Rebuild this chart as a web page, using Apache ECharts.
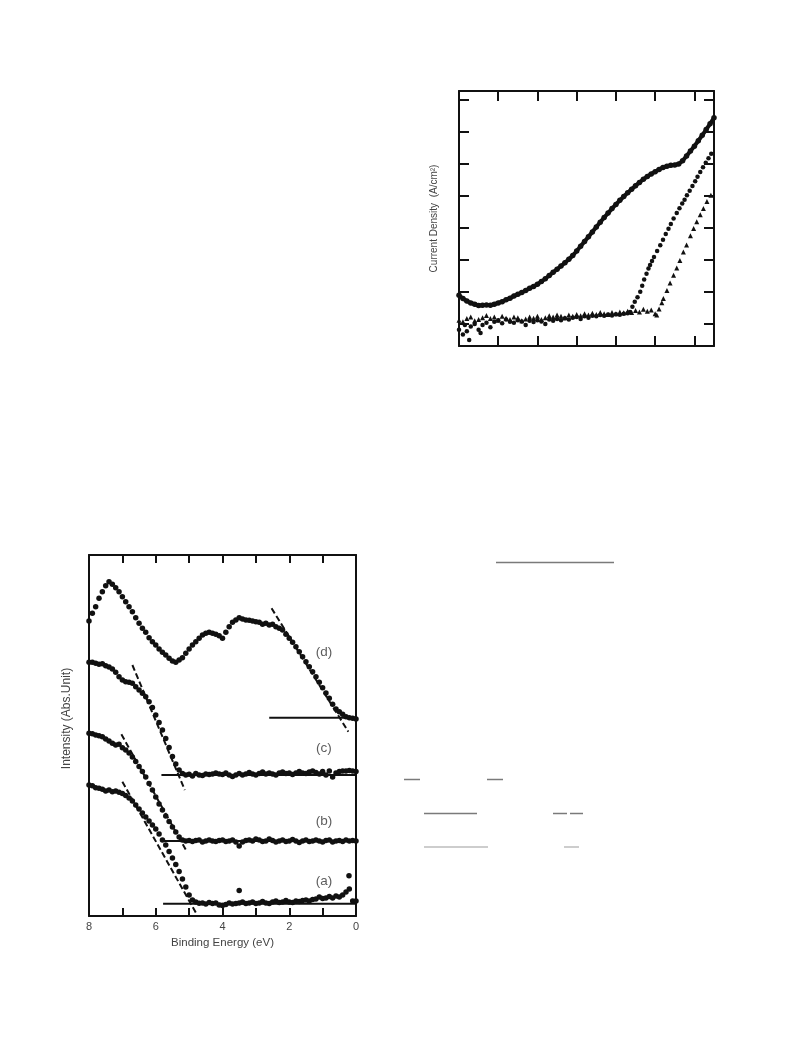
<!DOCTYPE html>
<html>
<head>
<meta charset="utf-8">
<script src="https://cdn.jsdelivr.net/npm/echarts@6/dist/echarts.min.js"></script>
<style>
html,body{margin:0;padding:0;background:#fff;}
#c{width:793px;height:1057px;}
</style>
</head>
<body>
<div id="c"></div>
<script>
// ---------- Top chart: Current Density (arbitrary units) ----------
const topUpper = [
[0.0,0.88],[0.1,0.78],[0.2,0.70],[0.3,0.64],[0.4,0.60],[0.5,0.56],[0.6,0.57],[0.7,0.58],[0.8,0.57],[0.9,0.60],
[1.0,0.64],[1.1,0.68],[1.2,0.74],[1.3,0.79],[1.4,0.86],[1.5,0.91],[1.6,0.97],[1.7,1.03],[1.8,1.10],[1.9,1.16],
[2.0,1.23],[2.1,1.31],[2.2,1.40],[2.3,1.50],[2.4,1.60],[2.5,1.70],[2.6,1.80],[2.7,1.90],[2.8,2.01],[2.9,2.13],
[3.0,2.27],[3.1,2.42],[3.2,2.57],[3.3,2.72],[3.4,2.87],[3.5,3.02],[3.6,3.17],[3.7,3.32],[3.8,3.46],[3.9,3.60],
[4.0,3.73],[4.1,3.86],[4.2,3.98],[4.3,4.10],[4.4,4.21],[4.5,4.32],[4.6,4.42],[4.7,4.52],[4.8,4.61],[4.9,4.69],
[5.0,4.76],[5.1,4.83],[5.2,4.89],[5.3,4.93],[5.4,4.96],[5.5,4.97],[5.6,5.00],[5.7,5.10],[5.8,5.25],[5.9,5.41],
[6.0,5.56],[6.1,5.73],[6.2,5.90],[6.3,6.08],[6.4,6.26],[6.5,6.45]
];
const topCircles = [
[0.0,-0.20],[0.1,-0.35],[0.15,-0.05],[0.2,-0.25],[0.26,-0.52],[0.3,-0.10],[0.4,-0.02],[0.5,-0.20],[0.55,-0.30],[0.6,-0.05],
[0.7,0.02],[0.8,-0.12],[0.9,0.05],[1.0,0.10],[1.1,0.00],[1.2,0.12],[1.3,0.05],[1.4,0.02],[1.5,0.10],[1.6,0.06],
[1.7,-0.05],[1.8,0.08],[1.9,0.04],[2.0,0.10],[2.1,0.06],[2.2,-0.02],[2.3,0.12],[2.4,0.08],[2.5,0.14],[2.6,0.10],
[2.7,0.16],[2.8,0.12],[2.9,0.18],[3.0,0.20],[3.1,0.14],[3.2,0.22],[3.3,0.18],[3.4,0.24],[3.5,0.22],[3.6,0.26],
[3.7,0.24],[3.8,0.28],[3.9,0.25],[4.0,0.29],[4.1,0.27],[4.2,0.30],[4.3,0.32],
[4.36,0.36],[4.42,0.52],[4.48,0.68],[4.55,0.82],[4.62,0.99],[4.67,1.18],[4.72,1.38],[4.78,1.56],[4.83,1.72],[4.87,1.83],
[4.92,1.96],[4.97,2.08],[5.05,2.27],[5.13,2.45],[5.2,2.62],[5.27,2.80],[5.34,2.97],[5.40,3.12],[5.47,3.29],[5.55,3.46],
[5.62,3.61],[5.69,3.76],[5.75,3.88],[5.81,4.02],[5.88,4.16],[5.95,4.31],[6.02,4.46],[6.08,4.60],[6.15,4.75],[6.22,4.90],
[6.29,5.04],[6.36,5.18],[6.43,5.32],[6.52,5.49]
];
const topTriangles = [
[0.0,0.10],[0.1,0.05],[0.2,0.15],[0.3,0.20],[0.4,0.08],[0.5,0.12],[0.6,0.18],[0.7,0.25],[0.8,0.15],[0.9,0.20],
[1.0,0.10],[1.1,0.22],[1.2,0.16],[1.3,0.12],[1.4,0.20],[1.5,0.18],[1.6,0.08],[1.7,0.14],[1.8,0.20],[1.9,0.16],
[2.0,0.22],[2.1,0.12],[2.2,0.18],[2.3,0.24],[2.4,0.20],[2.5,0.26],[2.6,0.22],[2.7,0.18],[2.8,0.26],[2.9,0.22],
[3.0,0.28],[3.1,0.24],[3.2,0.30],[3.3,0.26],[3.4,0.32],[3.5,0.28],[3.6,0.34],[3.7,0.30],[3.8,0.28],[3.9,0.34],
[4.0,0.30],[4.1,0.36],[4.2,0.33],[4.3,0.38],[4.4,0.34],[4.5,0.40],[4.6,0.36],[4.7,0.44],[4.8,0.38],[4.9,0.42],
[5.0,0.30],[5.04,0.26],[5.1,0.45],[5.17,0.65],[5.21,0.78],[5.3,1.03],[5.38,1.27],[5.47,1.51],[5.55,1.74],[5.63,1.97],
[5.72,2.24],[5.8,2.46],[5.9,2.75],[5.98,2.98],[6.06,3.19],[6.15,3.41],[6.23,3.60],[6.32,3.82],[6.42,4.02],[6.52,4.23]
];
const topYTicks = [0,1,2,3,4,5,6,7];

// ---------- Bottom chart: XPS valence band ----------
const energies = [
8.0,7.9,7.8,7.7,7.6,7.5,7.4,7.3,7.2,7.1,
7.0,6.9,6.8,6.7,6.6,6.5,6.4,6.3,6.2,6.1,
6.0,5.9,5.8,5.7,5.6,5.5,5.4,5.3,5.2,5.1,
5.0,4.9,4.8,4.7,4.6,4.5,4.4,4.3,4.2,4.1,
4.0,3.9,3.8,3.7,3.6,3.5,3.4,3.3,3.2,3.1,
3.0,2.9,2.8,2.7,2.6,2.5,2.4,2.3,2.2,2.1,
2.0,1.9,1.8,1.7,1.6,1.5,1.4,1.3,1.2,1.1,
1.0,0.9,0.8,0.7,0.6,0.5,0.4,0.3,0.2,0.1,
0.0
];
const curveD = [
295,302.7,309.3,317.7,324.3,330.3,334.3,331.7,328.3,324.3,
319.3,314.3,309.3,304.3,298.3,292.7,287.7,283.7,278.3,274.3,
271,267,263.7,261,257.7,255,253.7,256,258.3,262.7,
267,271,274.3,277.7,281,282.7,283.7,282.7,281.7,280.3,
277.7,283.7,289.3,293.7,296,298.3,297,296,295.7,295,
294.3,293.7,291.7,292.7,291,291.7,289.3,287.7,286,281.7,
277.7,273.7,269.3,264.3,259.3,254.3,249.3,244.3,239.3,233.7,
228.3,223,217.7,211.7,207,204.3,201.7,199.3,198.3,197.7,
197
];
const curveC = [
253.7,253.7,252.7,251.7,252.3,250.3,249,247,243.7,239.3,
236,234.3,233.7,232.7,229.3,226,222.7,219.3,214.3,208.5,
201,193.5,186,177.5,168.5,159.5,152,146,142.5,141,
141.7,140,142.5,141,140.5,142,141.5,142,143,142,
141.5,143,141,139.5,141,142.5,141,142,143.5,142,
141,142.5,144,142,143,142,141,143,144,142.5,
143,141.5,143,144.5,143,142.5,144,145,143.5,142,
144.5,141,145,139,143,144.5,145,145,145.5,145,
144.5
];
const curveB = [
182.7,182.3,181,180.3,179.3,177,175,172.7,171,171.7,
168.3,166,163,159,154.5,149.5,144.5,139,132.5,126,
119,112,106,100,94.5,89,84,79,76,75,
75.5,74.5,75.5,76,74,75,76,75,74.5,75.5,
76,74.5,75,76,74,70,74,75.5,76,75,
77,76,74.5,75,77,75.5,74,75,76,74.5,
75,76.5,75,73.5,75,76,74.5,75,76,75,
74,75.5,76,74,75,75.5,74.5,76,75,75.5,
75
];
const curveA = [
131,130.3,128.3,127.7,126.7,125,126,124.3,125,123.7,
122.5,120.5,118,115,111,107,103,99,95,91,
87,82,76,71,64.5,58,51.5,44.5,37,29,
21,16,14,12.7,13,12,13.5,12.5,13,11,
10.5,11.5,13,12,12.5,13,14,12.5,13,14,
12.5,13,14.5,13,12.5,14,15,13.5,14,15.5,
14,13.5,15,14.5,15.5,16,15,16.5,17,19,
17.5,18,19.5,18,20,19,21,24,27,15,
15
];
const outliersA = [[3.5,25.5],[0.21,40.3]];
// dashed leading-edge fits and solid baselines (energy, intensity)
const fitD = [[2.53,307.7],[0.23,184.3]];
const fitC = [[6.70,251],[5.13,126]];
const fitB = [[7.03,181.7],[5.08,65]];
const fitA = [[7.00,134.3],[4.76,1]];
const baseD = [[2.6,198.3],[0,198.3]];
const baseC = [[5.83,141],[0,141]];
const baseB = [[5.78,75],[0,75]];
const baseA = [[5.78,12.3],[0,12.3]];
const curveLabels = [['(d)',0.96,263.7],['(c)',0.96,167.7],['(b)',0.96,94.3],['(a)',0.96,34.3]];
const xLabelValues = [0,2,4,6,8];

// ---------- build ----------
const FONT = 'Liberation Sans, Arial, Helvetica, sans-serif';
const pair = (ys) => energies.map((e,i)=>[e, ys[i]]);

const chart = echarts.init(document.getElementById('c'), null, {renderer:'canvas'});

const axLine = {show:true, onZero:false, lineStyle:{color:'#111', width:2}};
const scatterS = (xi, yi, data, sym, size) => ({
  type:'scatter', xAxisIndex:xi, yAxisIndex:yi, data:data, symbol:sym, symbolSize:size,
  itemStyle:{color:'#111', opacity:1}, silent:true, z:3
});
const lineS = (data, dashed) => ({
  type:'line', xAxisIndex:2, yAxisIndex:2, data:data, showSymbol:false, symbol:'none',
  lineStyle:{color:'#111', width:2, type: dashed ? [6,3] : 'solid'}, silent:true, z:2
});

const option = {
  animation:false,
  backgroundColor:'#fff',
  grid:[
    {left:459, top:91, width:255, height:255, show:false},
    {left:89, top:555, width:267, height:361, show:false}
  ],
  xAxis:[
    {gridIndex:0, type:'value', position:'bottom', min:0, max:6.5, interval:1,
     axisLine:axLine, axisTick:{show:true, inside:true, length:10, lineStyle:{color:'#111', width:2}},
     axisLabel:{show:false}, splitLine:{show:false}},
    {gridIndex:0, type:'value', position:'top', min:0, max:6.5, interval:1,
     axisLine:axLine, axisTick:{show:true, inside:true, length:10, lineStyle:{color:'#111', width:2}},
     axisLabel:{show:false}, splitLine:{show:false}},
    {gridIndex:1, type:'value', position:'bottom', inverse:true, min:0, max:8, interval:1,
     axisLine:axLine, axisTick:{show:true, inside:true, length:8, lineStyle:{color:'#111', width:2}},
     axisLabel:{show:true, customValues:xLabelValues, color:'#444', fontSize:11, fontFamily:FONT, margin:5},
     splitLine:{show:false},
     name:'Binding Energy (eV)', nameLocation:'middle', nameGap:21,
     nameTextStyle:{color:'#444', fontSize:11.5, fontFamily:FONT}},
    {gridIndex:1, type:'value', position:'top', inverse:true, min:0, max:8, interval:1,
     axisLine:axLine, axisTick:{show:true, inside:true, length:8, lineStyle:{color:'#111', width:2}},
     axisLabel:{show:false}, splitLine:{show:false}}
  ],
  yAxis:[
    {gridIndex:0, type:'value', position:'left', min:-0.71, max:7.29,
     axisLine:axLine, axisTick:{show:true, inside:true, length:10, customValues:topYTicks, lineStyle:{color:'#111', width:2}},
     axisLabel:{show:false}, splitLine:{show:false},
     name:'Current Density  (A/cm²)', nameLocation:'middle', nameGap:20,
     nameTextStyle:{color:'#444', fontSize:10, fontFamily:FONT}},
    {gridIndex:0, type:'value', position:'right', min:-0.71, max:7.29,
     axisLine:axLine, axisTick:{show:true, inside:true, length:10, customValues:topYTicks, lineStyle:{color:'#111', width:2}},
     axisLabel:{show:false}, splitLine:{show:false}},
    {gridIndex:1, type:'value', position:'left', min:0, max:361,
     axisLine:axLine, axisTick:{show:false}, axisLabel:{show:false}, splitLine:{show:false},
     name:'Intensity (Abs.Unit)', nameLocation:'middle', nameGap:16,
     nameTextStyle:{color:'#444', fontSize:12, fontFamily:FONT, padding:[0,0,0,34]}},
    {gridIndex:1, type:'value', position:'right', min:0, max:361,
     axisLine:axLine, axisTick:{show:false}, axisLabel:{show:false}, splitLine:{show:false}}
  ],
  series:[
    {type:'line', xAxisIndex:0, yAxisIndex:0, data:topUpper, symbol:'circle', symbolSize:5.5, showSymbol:true,
     itemStyle:{color:'#111', opacity:1}, lineStyle:{color:'#111', width:4}, silent:true, z:3},
    scatterS(0,0,topCircles,'circle',4.5),
    scatterS(0,0,topTriangles,'triangle',5),

    lineS(fitD,true), lineS(fitC,true), lineS(fitB,true), lineS(fitA,true),
    lineS(baseD,false), lineS(baseC,false), lineS(baseB,false), lineS(baseA,false),
    scatterS(2,2,pair(curveD),'circle',5.5),
    scatterS(2,2,pair(curveC),'circle',5.5),
    scatterS(2,2,pair(curveB),'circle',5.5),
    scatterS(2,2,pair(curveA),'circle',5.5),
    scatterS(2,2,outliersA,'circle',5.5),
    {type:'scatter', xAxisIndex:2, yAxisIndex:2, symbolSize:0, silent:true,
     data:curveLabels.map(l=>({value:[l[1], l[2]], name:l[0]})),
     label:{show:true, position:'inside', formatter:p=>p.name, color:'#333', fontSize:13.5, fontFamily:FONT}}
  ],
  graphic:[
    {type:'line', shape:{x1:496,y1:562.5,x2:614,y2:562.5}, style:{stroke:'#7a7a7a', lineWidth:1.5}},
    {type:'line', shape:{x1:404,y1:779.5,x2:420,y2:779.5}, style:{stroke:'#7a7a7a', lineWidth:1.5}},
    {type:'line', shape:{x1:487,y1:779.5,x2:503,y2:779.5}, style:{stroke:'#7a7a7a', lineWidth:1.5}},
    {type:'line', shape:{x1:424,y1:813.5,x2:477,y2:813.5}, style:{stroke:'#7a7a7a', lineWidth:1.5}},
    {type:'line', shape:{x1:553,y1:813.5,x2:567,y2:813.5}, style:{stroke:'#7a7a7a', lineWidth:1.5}},
    {type:'line', shape:{x1:570,y1:813.5,x2:583,y2:813.5}, style:{stroke:'#7a7a7a', lineWidth:1.5}},
    {type:'line', shape:{x1:424,y1:847,x2:488,y2:847}, style:{stroke:'#bdbdbd', lineWidth:1.5}},
    {type:'line', shape:{x1:564,y1:847,x2:579,y2:847}, style:{stroke:'#bdbdbd', lineWidth:1.5}}
  ]
};
chart.setOption(option);
</script>
</body>
</html>
